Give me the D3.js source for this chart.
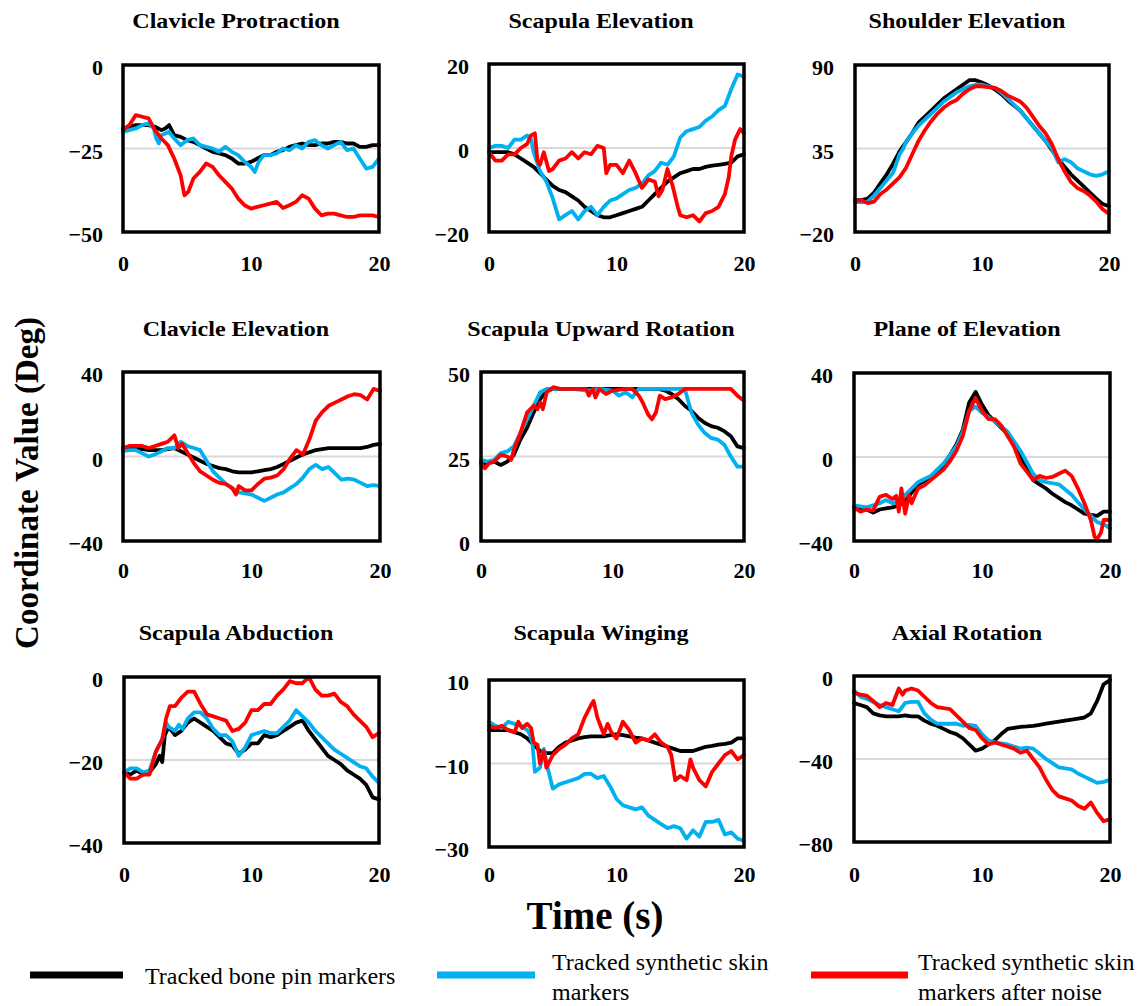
<!DOCTYPE html>
<html><head><meta charset="utf-8">
<script src="https://cdn.jsdelivr.net/npm/d3@7"></script>
<style>body{margin:0;background:#fff} svg{display:block}</style>
</head><body>
<script>
// ---------- DATA ----------
const seriesLabels = [["Tracked bone pin markers"], ["Tracked synthetic  skin", "markers"], ["Tracked synthetic  skin", "markers after noise"]];
const seriesColors = ["#000000", "#00b0f0", "#ff0000"];
const panelTitles = ["Clavicle Protraction", "Scapula Elevation", "Shoulder Elevation",
  "Clavicle Elevation", "Scapula Upward Rotation", "Plane of Elevation",
  "Scapula Abduction", "Scapula Winging", "Axial Rotation"];
const yTickValues = [[0,-25,-50],[20,0,-20],[90,35,-20],[40,0,-40],[50,25,0],[40,0,-40],[0,-20,-40],[10,-10,-30],[0,-40,-80]];
const xTickValues = [0, 10, 20];
const xAxisTitle = "Time (s)";
const yAxisTitle = "Coordinate  Value (Deg)";

const clavProtBone = [[0,-19],[0.5,-18.5],[1,-18],[1.5,-18],[2,-18],[2.5,-18.5],[3,-19.5],[3.3,-19],[3.6,-18],[4,-21],[4.5,-21.5],[5,-22.5],[5.5,-23],[6,-24],[6.5,-25],[7,-26],[7.5,-26.5],[8,-27],[8.5,-28],[9,-29.5],[9.5,-29.5],[10,-29],[10.5,-28],[11,-27],[11.5,-27],[12,-26],[12.5,-25.5],[13,-24.5],[13.5,-24],[14,-23.5],[14.5,-24],[15,-24],[15.5,-23.5],[16,-23.5],[16.5,-23],[17,-23],[17.5,-23.5],[18,-23.5],[18.5,-24.5],[19,-24.5],[19.5,-24],[20,-24]];
const clavProtSkin = [[0,-20],[0.5,-19.5],[1,-19],[1.5,-18],[2,-17.5],[2.4,-19],[2.6,-22],[2.8,-23.5],[3,-21],[3.3,-20.5],[3.6,-20],[4,-22],[4.5,-24],[5,-22.5],[5.5,-22],[6,-24],[6.5,-24.5],[7,-25],[7.5,-26],[8,-24.5],[8.5,-26],[9,-27],[9.5,-29],[10,-30.5],[10.3,-32],[10.6,-29],[11,-27],[11.5,-27],[12,-26.5],[12.5,-25],[13,-25.5],[13.5,-24],[14,-25],[14.5,-23],[15,-22.5],[15.5,-24],[16,-25],[16.5,-24],[17,-23],[17.5,-25.5],[18,-25],[18.5,-28],[19,-31],[19.5,-30.5],[20,-28]];
const clavProtNoise = [[0,-19.5],[0.5,-18],[1,-15],[1.5,-15.5],[2,-16],[2.5,-19.5],[3,-22],[3.5,-24],[4,-28],[4.5,-33],[4.8,-39],[5.1,-38],[5.5,-34],[6,-32],[6.5,-29.5],[7,-30.5],[7.5,-33],[8,-35],[8.5,-37],[9,-40],[9.5,-42],[10,-43],[10.5,-42.5],[11,-42],[11.5,-41.5],[12,-41],[12.5,-42.8],[13,-42],[13.5,-41],[14,-39],[14.5,-40],[15,-43],[15.5,-45],[16,-44.5],[16.5,-44.5],[17,-45],[17.5,-45.5],[18,-45.5],[18.5,-45],[19,-45],[19.5,-45],[20,-45.5]];

const scapElevBone = [[0,-1],[0.5,-1],[1,-1],[1.5,-1],[2,-1.5],[2.5,-2.5],[3,-3.5],[3.5,-4.5],[4,-6],[4.5,-7.5],[5,-9],[5.5,-10],[6,-10.5],[6.5,-11.5],[7,-12.5],[7.5,-14],[8,-15],[8.5,-16],[9,-16.5],[9.5,-16.5],[10,-16],[10.5,-15.5],[11,-15],[11.5,-14.5],[12,-14],[12.5,-12.5],[13,-11],[13.5,-9.5],[14,-8],[14.5,-7],[15,-6],[15.5,-5.5],[16,-5],[16.5,-5],[17,-4.5],[17.5,-4.2],[18,-4],[18.5,-3.8],[19,-3.5],[19.5,-2],[20,-1.5]];
const scapElevSkin = [[0,0],[0.5,0.5],[1,0.5],[1.5,0],[2,2],[2.5,2],[3,3],[3.3,2],[3.5,-1],[4,-5.5],[4.5,-8],[5,-12],[5.5,-17],[6,-16],[6.5,-15],[7,-17],[7.5,-15],[8,-14],[8.5,-16],[9,-14],[9.5,-12.5],[10,-12],[10.5,-11],[11,-10],[11.5,-9.5],[12,-8.5],[12.5,-6.5],[13,-5.5],[13.5,-3.5],[14,-4],[14.5,-2],[15,2.5],[15.5,4],[16,4.5],[16.5,5],[17,6.5],[17.5,7.5],[18,9],[18.5,10],[19,14],[19.5,17.5],[20,17]];
const scapElevNoise = [[0,-1],[0.5,-3],[1,-3],[1.5,-1.5],[2,-1.5],[2.5,0],[3,1],[3.3,3],[3.6,3.5],[3.8,-3],[4,-4],[4.3,-1],[4.7,-5.5],[5,-5],[5.5,-3],[6,-2.5],[6.5,-1],[7,-2.5],[7.5,-1],[8,-1.5],[8.5,0.5],[9,0],[9.2,-6],[9.5,-4],[10,-4],[10.5,-6],[11,-3],[11.5,-6],[12,-9.5],[12.5,-7.5],[13,-8],[13.3,-11.5],[13.6,-10],[14,-5],[14.4,-9],[14.8,-14],[15,-16],[15.5,-16.5],[16,-16],[16.5,-17.5],[17,-15.5],[17.5,-15],[18,-14],[18.5,-11],[18.8,-7],[19,-2],[19.3,2],[19.7,4.5],[20,3.5]];

const shoElevBone = [[0,1],[0.5,1],[1,2],[1.5,6],[2,12],[2.5,18],[3,25],[3.5,33],[4,39],[4.5,45],[5,52],[5.5,56],[6,60],[6.5,64],[7,68],[7.5,71],[8,74],[8.5,77],[9,80],[9.5,80],[10,78.5],[10.5,76.5],[11,74],[11.5,71],[12,67],[12.5,63.5],[13,60],[13.5,55],[14,50],[14.5,45],[15,40],[15.5,34],[16,28],[16.5,23],[17,18],[17.5,14],[18,10],[18.5,6],[19,2],[19.5,-1.5],[20,-3]];
const shoElevSkin = [[0,0],[0.5,-0.5],[1,0],[1.5,4],[2,9],[2.5,14],[3,19],[3.5,31],[3.8,35],[4,39],[4.5,45],[5,50],[5.5,54],[6,58],[6.5,62],[7,66],[7.5,69],[8,72],[8.5,74],[9,76],[9.5,77],[10,77],[10.5,76],[11,75],[11.5,72],[12,68],[12.5,64],[13,60],[13.5,55],[14,50],[14.5,45],[15,40],[15.5,35],[16,26],[16.5,28],[17,26],[17.5,22],[18,20],[18.5,18],[19,17],[19.5,18],[20,20]];
const shoElevNoise = [[0,0],[0.5,1],[1,-1],[1.5,0],[2,5],[2.5,8],[3,12],[3.5,16],[4,22],[4.5,31],[5,40],[5.5,47],[6,53],[6.5,58],[7,62],[7.5,65],[8,67],[8.5,71],[9,74],[9.5,76],[10,76],[10.5,75.5],[11,75],[11.5,73],[12,70],[12.5,68],[13,66],[13.5,62],[14,56],[14.5,50],[15,45],[15.5,38],[16,28],[16.5,20],[17,13],[17.5,9],[18,7],[18.5,4],[19,0],[19.5,-5],[20,-8]];

const clavElevBone = [[0,4],[0.5,4],[1,4],[1.5,3.5],[2,3],[2.5,3],[3,3],[3.5,3.5],[4,4],[4.5,2.5],[5,1],[5.5,-0.5],[6,-2],[6.5,-3.5],[7,-4.5],[7.5,-5.5],[8,-6],[8.5,-7],[9,-7.5],[9.5,-7.5],[10,-7.5],[10.5,-7],[11,-6.5],[11.5,-6],[12,-5],[12.5,-3.5],[13,-2],[13.5,-0.5],[14,1],[14.5,2],[15,3],[15.5,3.5],[16,4],[16.5,4],[17,4],[17.5,4],[18,4],[18.5,4],[19,4.5],[19.5,5.5],[20,6]];
const clavElevSkin = [[0,2.5],[0.5,3],[1,3],[1.5,1.5],[2,0],[2.5,1],[3,2.5],[3.5,4],[4,4],[4.5,7],[5,5],[5.5,4],[6,3],[6.5,-2],[7,-7],[7.5,-10],[8,-13],[8.5,-15],[9,-17],[9.5,-17.5],[10,-18],[10.5,-19.5],[11,-21],[11.5,-19.5],[12,-18],[12.5,-17],[13,-15],[13.5,-13],[14,-10],[14.5,-6],[15,-4],[15.5,-6],[16,-5],[16.5,-8],[17,-11],[17.5,-10.5],[18,-11],[18.5,-12.5],[19,-14],[19.5,-13.5],[20,-14]];
const clavElevNoise = [[0,4],[0.5,5],[1,5],[1.5,5],[2,4],[2.5,5],[3,6],[3.5,7],[4,10],[4.3,4],[4.6,6],[5,2],[5.5,-3],[6,-7],[6.5,-9],[7,-11],[7.5,-12.5],[8,-13],[8.5,-15],[8.8,-18],[9,-14],[9.5,-16],[10,-16],[10.5,-13],[11,-10.5],[11.5,-10],[12,-9],[12.5,-6],[13,-1],[13.5,3],[14,1],[14.5,8],[15,17],[15.5,21],[16,24],[16.5,25.5],[17,27],[17.5,28.5],[18,29.5],[18.5,29],[19,27],[19.5,32],[20,31]];

const scapUpBone = [[0,23],[0.5,23],[1,23.5],[1.5,22.5],[2,23.5],[2.5,25.5],[3,30],[3.5,33.5],[4,38],[4.5,42],[5,44.5],[5.5,45],[6,45],[7,45],[8,45],[9,45],[10,45],[11,45],[12,45],[13,45],[13.5,45],[14,44.5],[14.5,43.5],[15,42],[15.5,40],[16,38.5],[16.5,36.5],[17,35],[17.5,34],[18,33.5],[18.5,32.5],[19,31],[19.5,28],[20,27.5]];
const scapUpSkin = [[0,24],[0.5,23.5],[1,24],[1.5,26],[2,26.5],[2.5,28],[3,32],[3.5,36],[4,40],[4.5,44],[5,45],[6,45],[7,45],[8,44.5],[9,45],[10,44.5],[10.5,43],[11,44],[11.5,42.5],[12,45],[13,45],[14,45],[15,45],[15.5,45],[16,38],[16.5,34.5],[17,32],[17.5,30.5],[18,30],[18.5,28.5],[19,25],[19.5,22],[20,22]];
const scapUpNoise = [[0,23],[0.3,21.5],[0.6,23],[1,23.5],[1.5,25.5],[2,25],[2.3,24],[2.5,27],[3,32],[3.5,38],[4,40],[4.3,39],[4.5,41],[4.7,39],[5,44],[5.5,45.5],[6,45],[7,45],[8,45],[8.2,43],[8.5,45],[8.7,42.5],[9,45],[9.5,43.5],[10,44.5],[11,45],[11.5,45],[12,43],[12.3,41],[12.7,37.5],[13,36],[13.3,38],[13.6,43],[14,42],[14.5,42.5],[15,43.5],[15.5,45],[16,45],[17,45],[18,45],[19,45],[19.5,43],[20,41.5]];

const planeBone = [[0,-24],[0.5,-24.5],[1,-25],[1.5,-26.5],[2,-25],[2.5,-24.5],[3,-24],[3.5,-23],[4,-21],[4.5,-17],[5,-13],[5.5,-11.5],[6,-10],[6.5,-7],[7,-4],[7.5,1],[8,6],[8.5,13],[9,26],[9.5,31],[10,25],[10.5,20],[11,17],[11.5,14],[12,11],[12.5,5.5],[13,0],[13.5,-5.5],[14,-11],[14.5,-13],[15,-15],[15.5,-17.5],[16,-19.5],[16.5,-21.5],[17,-23],[17.5,-25],[18,-27],[18.5,-27.5],[19,-28],[19.5,-26],[20,-26]];
const planeSkin = [[0,-23],[0.5,-23.5],[1,-24],[1.5,-23],[2,-22],[2.5,-20.5],[3,-22],[3.5,-21],[4,-18],[4.5,-15],[5,-12],[5.5,-10.5],[6,-9],[6.5,-6],[7,-3],[7.5,1],[8,5],[8.5,12],[9,22],[9.5,24],[10,21],[10.5,19],[11,17],[11.5,14.5],[12,12],[12.5,7.5],[13,3],[13.5,-2.5],[14,-8],[14.5,-11],[15,-12],[15.5,-12.5],[16,-13],[16.5,-15.5],[17,-18],[17.5,-21.5],[18,-25],[18.5,-28],[19,-31],[19.5,-32],[20,-34]];
const planeNoise = [[0,-24],[0.5,-26],[1,-25],[1.5,-25.5],[2,-19],[2.5,-18],[3,-20],[3.3,-18.5],[3.5,-26],[3.7,-15],[4,-27],[4.3,-18],[4.5,-22],[5,-15],[5.5,-13.5],[6,-11],[6.5,-8.5],[7,-6],[7.5,-2],[8,3],[8.5,10],[9,22],[9.5,28],[10,22],[10.5,18],[11,18],[11.5,15],[12,10],[12.5,5],[13,-3],[13.5,-7],[14,-11],[14.5,-9],[15,-10],[15.5,-9.5],[16,-8],[16.5,-6.5],[17,-9],[17.5,-15],[18,-22],[18.5,-30],[18.8,-38],[19,-39],[19.3,-36],[19.5,-30],[20,-30]];

const scapAbdBone = [[0,-23],[0.5,-23.5],[1,-22.5],[1.5,-23.5],[2,-23],[2.5,-21],[2.8,-19],[3,-20.5],[3.2,-14],[3.5,-12],[4,-14],[4.5,-13],[5,-11],[5.5,-10],[6,-11],[6.5,-12],[7,-13],[7.5,-14.5],[8,-16],[8.5,-16.5],[9,-18.5],[9.5,-17.5],[10,-16],[10.5,-16],[11,-14],[11.5,-14.5],[12,-14],[12.5,-13],[13,-12],[13.5,-11],[14,-10.5],[14.5,-13],[15,-15],[15.5,-17],[16,-19],[16.5,-20],[17,-21],[17.5,-22.5],[18,-23.5],[18.5,-24.5],[19,-26],[19.5,-29],[20,-29.5]];
const scapAbdSkin = [[0,-23],[0.5,-22],[1,-22],[1.5,-23],[2,-22.5],[2.5,-18],[3,-15],[3.3,-11],[3.5,-12],[4,-13],[4.3,-11.5],[4.6,-12.5],[5,-10],[5.5,-8.5],[6,-8.5],[6.5,-10],[7,-12.5],[7.5,-14],[8,-14],[8.5,-15.5],[9,-19],[9.5,-17],[10,-14],[10.5,-13.5],[11,-13],[11.5,-13.5],[12,-13.5],[12.5,-12],[13,-10.5],[13.5,-8],[14,-9.5],[14.5,-11],[15,-13],[15.5,-14.5],[16,-16],[16.5,-17.5],[17,-18.5],[17.5,-19.5],[18,-20.5],[18.5,-21.5],[19,-22],[19.5,-24],[20,-25.5]];
const scapAbdNoise = [[0,-23],[0.5,-24.5],[1,-24.5],[1.5,-23.5],[2,-23.5],[2.5,-18],[3,-15],[3.3,-10],[3.6,-7],[4,-7],[4.5,-5],[5,-3.5],[5.5,-3.5],[6,-6.5],[6.5,-9],[7,-9.5],[7.5,-10],[8,-10.5],[8.5,-13],[9,-12.5],[9.5,-11],[10,-8],[10.5,-8],[11,-6.5],[11.5,-6.5],[12,-4.5],[12.5,-3],[13,-1],[13.5,-1.5],[14,-1.5],[14.5,0],[15,-3],[15.5,-4.5],[16,-4.5],[16.5,-4],[17,-6],[17.5,-7],[18,-9],[18.5,-10.5],[19,-12],[19.5,-14.5],[20,-13.5]];

const scapWingBone = [[0,-2],[0.5,-2],[1,-2],[1.5,-2],[2,-2.5],[2.5,-3],[3,-4],[3.5,-5.5],[4,-7],[4.5,-7.5],[5,-7.5],[5.5,-6],[6,-5],[6.5,-4.5],[7,-4],[7.5,-3.7],[8,-3.5],[8.5,-3.5],[9,-3.5],[9.5,-3.2],[10,-3],[10.5,-3.2],[11,-3.5],[11.5,-3.8],[12,-4],[12.5,-4.5],[13,-5],[13.5,-5.5],[14,-6],[14.5,-6.5],[15,-7],[15.5,-7],[16,-7],[16.5,-6.5],[17,-6],[17.5,-5.8],[18,-5.5],[18.5,-5.3],[19,-5],[19.5,-4],[20,-4]];
const scapWingSkin = [[0,0],[0.5,-1],[1,-1.5],[1.5,0],[2,-0.5],[2.5,-1],[3,-2],[3.2,-3],[3.4,-5],[3.6,-12],[4,-11],[4.3,-6.5],[4.6,-11],[5,-16],[5.5,-15],[6,-14.5],[6.5,-14],[7,-13.5],[7.5,-12.5],[8,-12.5],[8.5,-13.5],[9,-13],[9.5,-15.5],[10,-18.5],[10.5,-20],[11,-20.5],[11.5,-21],[12,-20.5],[12.5,-22.5],[13,-23.5],[13.5,-24.5],[14,-25.5],[14.5,-25],[15,-25.5],[15.5,-28],[16,-26],[16.5,-27.5],[17,-24],[17.5,-24],[18,-23.5],[18.5,-27],[19,-26.5],[19.5,-28],[20,-28.5]];
const scapWingNoise = [[0,-1],[0.5,-1.5],[1,-1],[1.5,-2],[2,-2.5],[2.3,0],[2.6,-1.5],[3,-0.5],[3.3,-1.5],[3.5,-5],[3.8,-5.5],[4,-10],[4.3,-7],[4.5,-11],[5,-8],[5.5,-6.5],[6,-5.5],[6.5,-4],[7,-3],[7.5,1],[8,4],[8.2,5],[8.5,1],[9,-3],[9.3,-0.5],[9.6,-2.5],[10,-4],[10.5,0],[11,-2],[11.5,-5],[12,-4],[12.5,-4.5],[13,-3],[13.5,-5],[14,-6],[14.3,-8],[14.6,-14],[15,-13],[15.5,-14],[15.8,-9],[16,-11],[16.5,-14],[17,-15.5],[17.5,-12],[18,-10],[18.5,-8],[19,-7],[19.5,-9],[20,-8]];

const axialBone = [[0,-13],[0.5,-14],[1,-15],[1.5,-18],[2,-19],[2.5,-19.5],[3,-19.5],[3.5,-19.5],[4,-19],[4.5,-19.5],[5,-19.5],[5.5,-21.5],[6,-23],[6.5,-24],[7,-25.5],[7.5,-27],[8,-28],[8.5,-30],[9,-33],[9.5,-36],[10,-35],[10.5,-33],[11,-31],[11.5,-28],[12,-25.5],[12.5,-25],[13,-24.5],[13.5,-24.3],[14,-24],[14.5,-23.5],[15,-23],[15.5,-22.5],[16,-22],[16.5,-21.5],[17,-21],[17.5,-20.5],[18,-20],[18.5,-18],[19,-12],[19.5,-4],[20,-2]];
const axialSkin = [[0,-7],[0.5,-10],[1,-11],[1.5,-12.5],[2,-14],[2.5,-15],[3,-16],[3.5,-17],[4,-13],[4.5,-12.5],[5,-12.5],[5.5,-18],[6,-21],[6.5,-23],[7,-23],[7.5,-23],[8,-23],[8.5,-24],[9,-23.5],[9.5,-24],[10,-28],[10.5,-31],[11,-32],[11.5,-32.5],[12,-33],[12.5,-34],[13,-35],[13.5,-34.5],[14,-35],[14.5,-37.5],[15,-40],[15.5,-42],[16,-44],[16.5,-44.5],[17,-45],[17.5,-47],[18,-48.5],[18.5,-50],[19,-51.5],[19.5,-51],[20,-50]];
const axialNoise = [[0,-8],[0.5,-9],[1,-9.5],[1.5,-12],[2,-15],[2.5,-13],[3,-14],[3.5,-6],[3.8,-9],[4,-7],[4.5,-6],[5,-7],[5.5,-10],[6,-13],[6.5,-15],[7,-15.5],[7.5,-16],[8,-19],[8.5,-22],[9,-25],[9.5,-26],[10,-30],[10.5,-33],[11,-32],[11.5,-33],[12,-34],[12.5,-35],[13,-37],[13.5,-36],[14,-40],[14.5,-44],[15,-50],[15.5,-55],[16,-58],[16.5,-59],[17,-60],[17.5,-62.5],[18,-64],[18.5,-61],[19,-66],[19.5,-70],[20,-69]];

const panelSeries = [
  [clavProtBone, clavProtSkin, clavProtNoise],
  [scapElevBone, scapElevSkin, scapElevNoise],
  [shoElevBone, shoElevSkin, shoElevNoise],
  [clavElevBone, clavElevSkin, clavElevNoise],
  [scapUpBone, scapUpSkin, scapUpNoise],
  [planeBone, planeSkin, planeNoise],
  [scapAbdBone, scapAbdSkin, scapAbdNoise],
  [scapWingBone, scapWingSkin, scapWingNoise],
  [axialBone, axialSkin, axialNoise]
];

// ---------- LAYOUT ----------
const W = 1137, H = 1006;
const boxes = [
  {x0:123, x1:379, y0:65, y1:232, gap:20},
  {x0:489, x1:744, y0:64, y1:232, gap:20},
  {x0:855, x1:1109, y0:65, y1:232, gap:21},
  {x0:123, x1:380, y0:372, y1:541, gap:20},
  {x0:481, x1:744, y0:372, y1:541, gap:11},
  {x0:854, x1:1110, y0:373, y1:541, gap:21},
  {x0:124, x1:379, y0:677, y1:843, gap:21},
  {x0:489, x1:744, y0:680, y1:847, gap:20},
  {x0:854, x1:1110, y0:676, y1:842, gap:21}
];
const titleX = [236, 601, 967];
const titleY = [28, 336, 640];
const xLabelY = [271, 578, 882];

const svg = d3.select("body").append("svg").attr("width", W).attr("height", H)
  .style("font-family", "'Liberation Serif','Times New Roman',serif");

const tickFont = 22, titleFont = 21.5;

panelTitles.forEach((title, i) => {
  const b = boxes[i];
  const row = Math.floor(i / 3), col = i % 3;
  const yt = yTickValues[i];
  const x = d3.scaleLinear().domain([0, 20]).range([b.x0, b.x1]);
  const y = d3.scaleLinear().domain([d3.min(yt), d3.max(yt)]).range([b.y1, b.y0]);
  const g = svg.append("g");

  // title
  g.append("text").attr("x", titleX[col]).attr("y", titleY[row])
    .attr("text-anchor", "middle").attr("font-weight", "bold").attr("font-size", titleFont)
    .attr("transform", `translate(${titleX[col]},0) scale(1.12,1) translate(${-titleX[col]},0)`)
    .text(title);

  // gridline at middle tick
  g.append("line").attr("x1", b.x0).attr("x2", b.x1)
    .attr("y1", y(yt[1])).attr("y2", y(yt[1]))
    .attr("stroke", "#d9d9d9").attr("stroke-width", 2);

  // y axis labels
  const yAxis = d3.axisLeft(y).tickValues(yt).tickSize(0).tickPadding(b.gap).tickFormat(d3.format("d"));
  const ya = g.append("g").attr("transform", `translate(${b.x0},2)`).call(yAxis);
  ya.select(".domain").remove();
  ya.selectAll("text").attr("font-size", tickFont).attr("font-weight", "bold").attr("fill", "#000")
    .attr("font-family", "'Liberation Serif',serif").attr("dy", "0.36em");

  // x axis labels
  const xAxis = d3.axisBottom(x).tickValues(xTickValues).tickSize(0).tickPadding(0).tickFormat(d3.format("d"));
  const xa = g.append("g").attr("transform", `translate(0,${xLabelY[row]})`).call(xAxis);
  xa.select(".domain").remove();
  xa.selectAll("text").attr("font-size", tickFont).attr("font-weight", "bold").attr("fill", "#000")
    .attr("font-family", "'Liberation Serif',serif").attr("dy", 0).attr("y", 0);

  // lines
  const line = d3.line().x(d => x(d[0])).y(d => y(d[1])).curve(d3.curveLinear);
  panelSeries[i].forEach((s, k) => {
    g.append("path").datum(s).attr("d", line).attr("fill", "none")
      .attr("stroke", seriesColors[k]).attr("stroke-width", 3.8)
      .attr("stroke-linejoin", "round").attr("stroke-linecap", "round");
  });

  // frame
  g.append("rect").attr("x", b.x0).attr("y", b.y0).attr("width", b.x1 - b.x0).attr("height", b.y1 - b.y0)
    .attr("fill", "none").attr("stroke", "#000").attr("stroke-width", 3.5);
});

// axis titles
svg.append("text").attr("x", 595).attr("y", 929).attr("text-anchor", "middle")
  .attr("font-weight", "bold").attr("font-size", 39).text(xAxisTitle);
svg.append("text").attr("transform", "translate(38,483) rotate(-90)").attr("text-anchor", "middle")
  .attr("font-weight", "bold").attr("font-size", 33).text(yAxisTitle);

// legend
const legendLineX = [[30, 123], [437, 535], [811, 908]];
const legendTextX = [145, 552, 918];
seriesLabels.forEach((lab, k) => {
  svg.append("line").attr("x1", legendLineX[k][0]).attr("x2", legendLineX[k][1])
    .attr("y1", 975).attr("y2", 975).attr("stroke", seriesColors[k]).attr("stroke-width", 7);
  const t = svg.append("text").attr("font-size", 24).attr("fill", "#000");
  if (lab.length === 1) {
    t.append("tspan").attr("x", legendTextX[k]).attr("y", 984).text(lab[0]);
  } else {
    t.append("tspan").attr("x", legendTextX[k]).attr("y", 970).text(lab[0]);
    t.append("tspan").attr("x", legendTextX[k]).attr("y", 1000).text(lab[1]);
  }
});
</script>
</body></html>
